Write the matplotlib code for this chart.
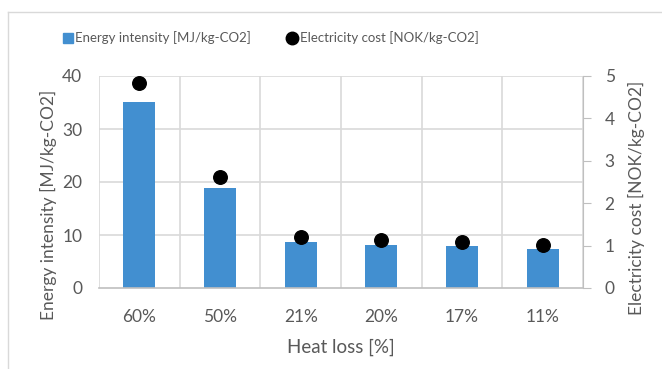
import numpy as np
import matplotlib.pyplot as plt
from matplotlib.lines import Line2D

plt.rcParams["font.family"] = ["Lato", "DejaVu Sans"]

heat_loss = ["60%", "50%", "21%", "20%", "17%", "11%"]
energy_intensity = [35.0, 18.8, 8.7, 8.1, 8.0, 7.3]   # MJ/kg-CO2
electricity_cost = [4.84, 2.61, 1.20, 1.13, 1.09, 1.01]  # NOK/kg-CO2

bar_col = "#428fd0"
grid_col = "#d9d9d9"
axis_col = "#bfbfbf"
text_col = "#595959"

W, H = 662, 369
fig = plt.figure(figsize=(W / 100, H / 100), dpi=100)
ax = fig.add_axes([99 / W, 1 - 288 / H, (583 - 99) / W, (288 - 76) / H])
ax2 = ax.twinx()

x = np.arange(len(heat_loss))
ax.bar(x, energy_intensity, width=0.4, color=bar_col, zorder=3)
ax2.scatter(x, electricity_cost, s=95, color="black", zorder=4)

ax.set_xlim(-0.5, len(heat_loss) - 0.5)
ax.set_ylim(0, 40)
ax.set_yticks([0, 10, 20, 30, 40])
ax2.set_ylim(0, 5)
ax2.set_yticks([0, 1, 2, 3, 4, 5])
ax.set_xticks(x)
ax.set_xticklabels(heat_loss)

# Excel-style grid: horizontal at y ticks, vertical at category boundaries
for yv in [10, 20, 30, 40]:
    ax.axhline(yv, color=grid_col, lw=1.2, zorder=1)
for xv in np.arange(-0.5, len(heat_loss) + 0.5, 1.0):
    ax.axvline(xv, color=grid_col, lw=1.2, zorder=1)

for a in (ax, ax2):
    for s in a.spines.values():
        s.set_visible(False)
ax2.spines["right"].set_visible(True)
ax2.spines["right"].set_color(axis_col)
ax2.spines["bottom"].set_visible(True)
ax2.spines["bottom"].set_color(axis_col)
ax2.spines["bottom"].set_linewidth(1.2)

ax.tick_params(axis="y", length=0, labelsize=12.5, colors=text_col, pad=12)
ax.tick_params(axis="x", length=0, labelsize=12.5, colors=text_col, pad=15)
ax2.tick_params(axis="y", length=5.5, direction="out", color=axis_col,
                labelsize=12.5, labelcolor=text_col, pad=10)

ax.set_xlabel("Heat loss [%]", fontsize=13.5, color=text_col, labelpad=10)
ax.set_ylabel("Energy intensity [MJ/kg-CO2]", fontsize=12.5, color=text_col)
ax2.set_ylabel("Electricity cost [NOK/kg-CO2]", fontsize=12.5, color=text_col)
ax.yaxis.set_label_coords(-42 / (583 - 99), (288 - 205) / (288 - 76))
ax2.yaxis.set_label_coords(1 + 45 / (583 - 99), (288 - 198) / (288 - 76))

handles = [
    Line2D([], [], marker="s", ls="", color=bar_col, markersize=7),
    Line2D([], [], marker="o", ls="", color="black", markersize=9),
]
fig.legend(handles, ["Energy intensity [MJ/kg-CO2]", "Electricity cost [NOK/kg-CO2]"],
           loc="center", bbox_to_anchor=(270 / W, 1 - 38 / H), ncol=2, frameon=False,
           fontsize=9.5, labelcolor=text_col, handletextpad=0.1, columnspacing=2.6,
           handlelength=1.0)

# light chart-area border
fig.add_artist(Line2D([8 / W, 8 / W], [0, 1 - 12 / H], transform=fig.transFigure,
                      color="#d9d9d9", lw=1))
fig.add_artist(Line2D([8 / W, 1], [1 - 12 / H, 1 - 12 / H], transform=fig.transFigure,
                      color="#d9d9d9", lw=1))

fig.savefig("out.png", dpi=100)
